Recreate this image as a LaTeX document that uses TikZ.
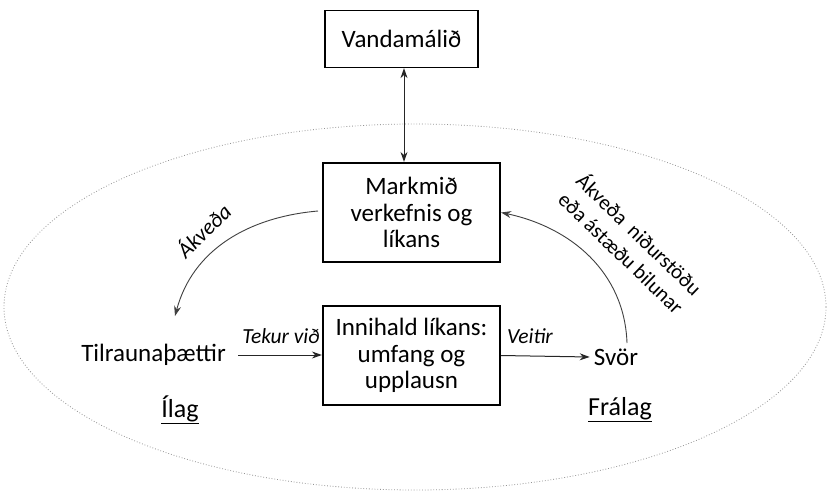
\documentclass[tikz,border=0pt]{standalone}
\usepackage{fontspec}
\usepackage{calc}
\setmainfont{Carlito}
\usetikzlibrary{arrows.meta}
\begin{document}
\begin{tikzpicture}[x=1pt,y=-1pt,
  mainfont/.style={font=\fontsize{25}{26.5}\selectfont},
  thickbox/.style={draw, line width=2.2pt, minimum width=177pt, minimum height=99pt, align=center, mainfont, inner sep=2pt},
  thinbox/.style={draw, line width=1.3pt, minimum width=153pt, minimum height=57pt, align=center, mainfont},
  lbl/.style={font=\fontsize{21.5}{24}\selectfont\itshape},
  arr/.style={-{Stealth[length=10pt,width=7pt]}, line width=1pt, draw=black!85},
  curv/.style={-{Stealth[length=10pt,width=7pt]}, line width=0.9pt, draw=black!75}
]
\useasboundingbox (0,0) rectangle (834,498);
\fill[white] (0,0) rectangle (834,498);
\draw[gray!85, dotted, line width=0.8pt] (415,307) ellipse [x radius=411, y radius=183];

\node[thinbox] (van) at (401.5,39) {Vandamálið};
\node[thickbox] (mark) at (411.5,212.5) {Markmið\\verkefnis og\\líkans};
\node[thickbox] (inni) at (411.5,355.5) {Innihald líkans:\\umfang og\\upplausn};
\node[mainfont, anchor=east, inner sep=0pt] (til) at (226,355) {Tilraunaþættir};
\node[mainfont, inner sep=0pt] (svor) at (616,357) {Svör};
\node[font=\fontsize{26}{28}\selectfont] (ilag) at (180,410) {\underline{Ílag}};
\node[font=\fontsize{26}{28}\selectfont] (fralag) at (620,410) {\underline{Frálag}};

\draw[{Stealth[length=10pt,width=7pt]}-{Stealth[length=10pt,width=7pt]}, line width=1pt, draw=black!85] (van.south -| 404,0) -- (mark.north -| 404,0);
\draw[arr] (til.east) ++(12,0) coordinate (t1) -- (t1 -| inni.west);
\node[lbl] (tek) at (281,336) {Tekur við};
\draw[arr] (inni.east) -- ([xshift=-4pt]svor.west);
\node[lbl] (veit) at (530,336) {Veitir};

\coordinate (l1) at (318,211);
\coordinate (l2) at (175,316);
\draw[curv] (l1) to[out=185, in=75] (l2);
\node[font=\fontsize{22}{24}\selectfont\itshape, rotate=45] (akv) at (203,230) {Ákveða};

\coordinate (r1) at (627,343);
\draw[curv] (r1) to[out=92, in=-12] (mark.east);
\node[font=\fontsize{21}{26}\selectfont, rotate=-44, align=left] (akv2) at (631,243) {\makebox[\widthof{eða ástæðu bilunar}][s]{Ákveða\hfill niðurstöðu}\\eða ástæðu bilunar};
\end{tikzpicture}
\end{document}
